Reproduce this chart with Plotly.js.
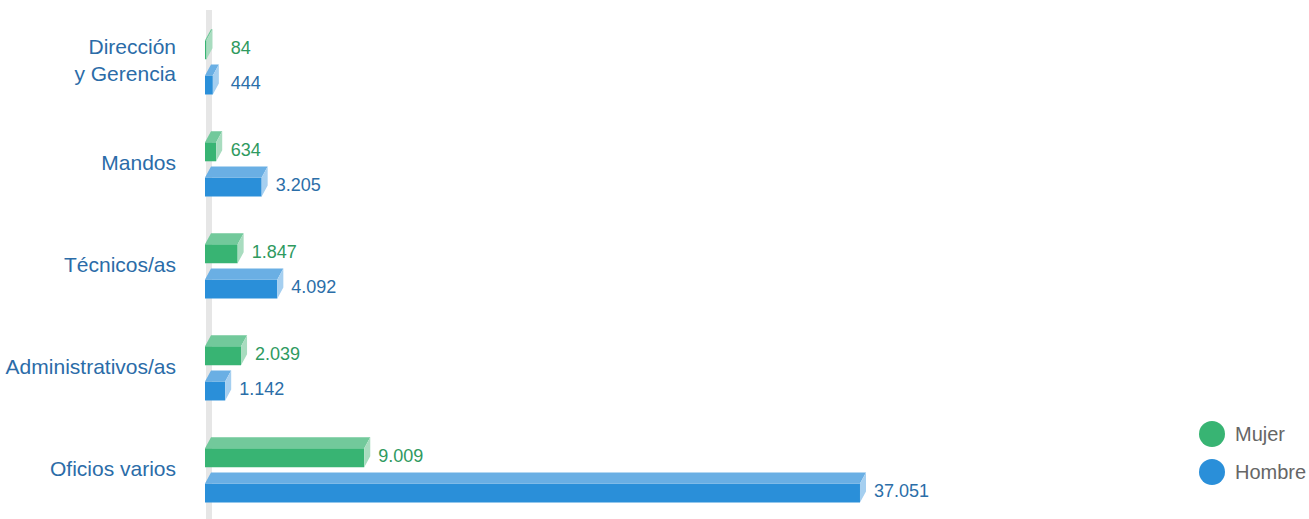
<!DOCTYPE html>
<html>
<head>
<meta charset="utf-8">
<script src="https://cdn.plot.ly/plotly-3.0.1.min.js"></script>
<style>html,body{margin:0;padding:0;background:#fff;}#chart{width:1309px;height:519px;}</style>
</head>
<body>
<div id="chart"></div>
<script>
// ---- data ----
var categories = ["Dirección<br>y Gerencia", "Mandos", "Técnicos/as", "Administrativos/as", "Oficios varios"];
var mujer  = [84, 634, 1847, 2039, 9009];
var hombre = [444, 3205, 4092, 1142, 37051];
var mujerLabels  = ["84", "634", "1.847", "2.039", "9.009"];
var hombreLabels = ["444", "3.205", "4.092", "1.142", "37.051"];
var seriesNames = ["Mujer", "Hombre"];

// ---- style ----
var W = 1309, H = 519, ML = 205;
var XMAX = 62450;
var pxPerUnit = (W - ML) / XMAX;
var DX = 6 / pxPerUnit;          // depth offset in x units
var DY = 11 / 102;               // depth offset in category units
var BAR_W = 19 / 102;            // front face height
var OFF = [-0.105, 0.24];        // offsets of the two series
var COLORS = {
  front: ["#38b473", "#2a8fd9"],
  top:   ["#72c99b", "#6aafe4"],
  side:  ["#a8dcbf", "#a5cff0"],
  text:  ["#2f9a5f", "#2b6ea8"]
};
var series = [mujer, hombre];
var labels = [mujerLabels, hombreLabels];
var idx = categories.map(function (_, i) { return i; });

var traces = [];
series.forEach(function (vals, s) {
  var ys = idx.map(function (i) { return i + OFF[s]; });
  traces.push({
    type: "bar", orientation: "h", x: vals, y: ys, width: BAR_W,
    marker: { color: COLORS.front[s], line: { width: 0 } },
    hoverinfo: "skip", showlegend: false
  });
});
series.forEach(function (vals, s) {
  var tx = [], ty = [], sx = [], sy = [];
  vals.forEach(function (v, i) {
    var yc = i + OFF[s];
    var ft = yc - BAR_W / 2, fb = yc + BAR_W / 2;
    tx.push(0, v, v + DX, DX, 0, null);
    ty.push(ft, ft, ft - DY, ft - DY, ft, null);
    sx.push(v, v + DX, v + DX, v, v, null);
    sy.push(ft, ft - DY, fb - DY, fb, ft, null);
  });
  traces.push({
    type: "scatter", mode: "lines", x: tx, y: ty, fill: "toself",
    fillcolor: COLORS.top[s], line: { width: 0, color: COLORS.top[s] },
    hoverinfo: "skip", showlegend: false
  });
  traces.push({
    type: "scatter", mode: "lines", x: sx, y: sy, fill: "toself",
    fillcolor: COLORS.side[s], line: { width: 0, color: COLORS.side[s] },
    hoverinfo: "skip", showlegend: false
  });
  traces.push({
    type: "scatter", mode: "text",
    x: vals.map(function (v) { return Math.max(v + DX + 8 / pxPerUnit, 1450); }),
    y: idx.map(function (i) { return i + OFF[s] - 0.005; }),
    text: labels[s], textposition: "middle right",
    textfont: { family: "Liberation Sans, Arial, sans-serif", size: 18, color: COLORS.text[s] },
    hoverinfo: "skip", showlegend: false
  });
});

var shapes = [{
  type: "line", xref: "x", yref: "paper",
  x0: 4 / pxPerUnit, x1: 4 / pxPerUnit, y0: 0, y1: 1 - 10 / H,
  line: { color: "#e6e6e6", width: 6 }, layer: "below"
}];
var annotations = [];
var legendY = [434, 472];
seriesNames.forEach(function (name, s) {
  var cx = (1212 - ML) / (W - ML), cy = 1 - legendY[s] / H;
  shapes.push({
    type: "circle", xref: "paper", yref: "paper",
    xsizemode: "pixel", ysizemode: "pixel", xanchor: cx, yanchor: cy,
    x0: -13, x1: 13, y0: -13, y1: 13,
    fillcolor: COLORS.front[s], line: { width: 0 }
  });
  annotations.push({
    xref: "paper", yref: "paper", x: (1233 - ML) / (W - ML), y: cy,
    xanchor: "left", yanchor: "middle", showarrow: false, text: name,
    font: { family: "Liberation Sans, Arial, sans-serif", size: 20, color: "#666666" }
  });
});

var layout = {
  width: W, height: H,
  margin: { l: ML, r: 0, t: 0, b: 0, pad: 0 },
  paper_bgcolor: "#ffffff", plot_bgcolor: "#ffffff",
  barmode: "overlay", showlegend: false,
  xaxis: { range: [0, XMAX], visible: false, showgrid: false, zeroline: false, fixedrange: true },
  yaxis: {
    range: [(H - 60.5) / 102, -60.5 / 102],
    tickmode: "array", tickvals: idx, ticktext: categories,
    showgrid: false, zeroline: false, showline: false, ticks: "",
    ticklabelstandoff: 28,
    tickfont: { family: "Liberation Sans, Arial, sans-serif", size: 21, color: "#2b6ca8" },
    fixedrange: true
  },
  shapes: shapes, annotations: annotations
};

Plotly.newPlot("chart", traces, layout, { displayModeBar: false, staticPlot: true });
</script>
</body>
</html>
